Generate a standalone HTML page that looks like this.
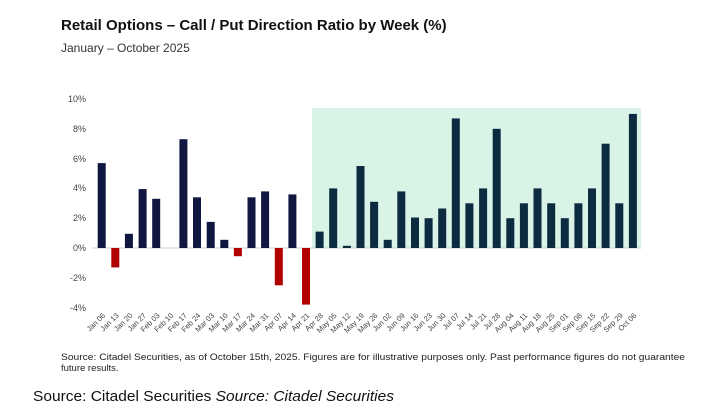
<!DOCTYPE html>
<html><head><meta charset="utf-8"><style>
html,body{margin:0;padding:0;background:#fff;}
svg{display:block;font-family:"Liberation Sans",Arial,sans-serif;}
</style></head><body>
<svg width="703" height="417" viewBox="0 0 703 417" xmlns="http://www.w3.org/2000/svg">
<rect width="703" height="417" fill="#fff"/>
<text x="61" y="30" font-size="15" font-weight="bold" fill="#111">Retail Options – Call / Put Direction Ratio by Week (%)</text>
<text x="61" y="52" font-size="12" fill="#333">January – October 2025</text>
<rect x="312" y="108" width="329" height="140" fill="#d9f3e6"/>
<g font-size="9" fill="#444" text-anchor="end">
<text x="86" y="102">10%</text><text x="86" y="132">8%</text><text x="86" y="162">6%</text>
<text x="86" y="191">4%</text><text x="86" y="221">2%</text><text x="86" y="251">0%</text>
<text x="86" y="281">-2%</text><text x="86" y="311">-4%</text>
</g>
<line x1="92" y1="248" x2="641" y2="248" stroke="#ccc" stroke-width="1"/>
<g fill="#0f1640">
<rect x="97.7" y="163.1" width="8" height="84.9"/>
<rect x="124.9" y="233.8" width="8" height="14.2"/>
<rect x="138.6" y="189.1" width="8" height="58.9"/>
<rect x="152.2" y="198.8" width="8" height="49.2"/>
<rect x="179.4" y="139.2" width="8" height="108.8"/>
<rect x="193.0" y="197.3" width="8" height="50.7"/>
<rect x="206.7" y="221.9" width="8" height="26.1"/>
<rect x="220.3" y="239.8" width="8" height="8.2"/>
<rect x="247.5" y="197.3" width="8" height="50.7"/>
<rect x="261.1" y="191.4" width="8" height="56.6"/>
<rect x="288.4" y="194.4" width="8" height="53.6"/>
</g>
<g fill="#b00000">
<rect x="111.3" y="248" width="8" height="19.4"/>
<rect x="233.9" y="248" width="8" height="8.2"/>
<rect x="274.8" y="248" width="8" height="37.3"/>
<rect x="302.0" y="248" width="8" height="56.6"/>
</g>
<g fill="#0c2a40">
<rect x="315.6" y="231.6" width="8" height="16.4"/>
<rect x="329.2" y="188.4" width="8" height="59.6"/>
<rect x="342.9" y="245.8" width="8" height="2.2"/>
<rect x="356.5" y="166.0" width="8" height="82.0"/>
<rect x="370.1" y="201.8" width="8" height="46.2"/>
<rect x="383.7" y="239.8" width="8" height="8.2"/>
<rect x="397.3" y="191.4" width="8" height="56.6"/>
<rect x="411.0" y="217.5" width="8" height="30.5"/>
<rect x="424.6" y="218.2" width="8" height="29.8"/>
<rect x="438.2" y="208.5" width="8" height="39.5"/>
<rect x="451.8" y="118.4" width="8" height="129.6"/>
<rect x="465.4" y="203.3" width="8" height="44.7"/>
<rect x="479.1" y="188.4" width="8" height="59.6"/>
<rect x="492.7" y="128.8" width="8" height="119.2"/>
<rect x="506.3" y="218.2" width="8" height="29.8"/>
<rect x="519.9" y="203.3" width="8" height="44.7"/>
<rect x="533.5" y="188.4" width="8" height="59.6"/>
<rect x="547.2" y="203.3" width="8" height="44.7"/>
<rect x="560.8" y="218.2" width="8" height="29.8"/>
<rect x="574.4" y="203.3" width="8" height="44.7"/>
<rect x="588.0" y="188.4" width="8" height="59.6"/>
<rect x="601.6" y="143.7" width="8" height="104.3"/>
<rect x="615.3" y="203.3" width="8" height="44.7"/>
<rect x="628.9" y="113.9" width="8" height="134.1"/>
</g>
<g font-size="7.5" fill="#444" text-anchor="end">
<text transform="translate(105.7,316) rotate(-45)">Jan 06</text>
<text transform="translate(119.3,316) rotate(-45)">Jan 13</text>
<text transform="translate(132.9,316) rotate(-45)">Jan 20</text>
<text transform="translate(146.6,316) rotate(-45)">Jan 27</text>
<text transform="translate(160.2,316) rotate(-45)">Feb 03</text>
<text transform="translate(173.8,316) rotate(-45)">Feb 10</text>
<text transform="translate(187.4,316) rotate(-45)">Feb 17</text>
<text transform="translate(201.0,316) rotate(-45)">Feb 24</text>
<text transform="translate(214.7,316) rotate(-45)">Mar 03</text>
<text transform="translate(228.3,316) rotate(-45)">Mar 10</text>
<text transform="translate(241.9,316) rotate(-45)">Mar 17</text>
<text transform="translate(255.5,316) rotate(-45)">Mar 24</text>
<text transform="translate(269.1,316) rotate(-45)">Mar 31</text>
<text transform="translate(282.8,316) rotate(-45)">Apr 07</text>
<text transform="translate(296.4,316) rotate(-45)">Apr 14</text>
<text transform="translate(310.0,316) rotate(-45)">Apr 21</text>
<text transform="translate(323.6,316) rotate(-45)">Apr 28</text>
<text transform="translate(337.2,316) rotate(-45)">May 05</text>
<text transform="translate(350.9,316) rotate(-45)">May 12</text>
<text transform="translate(364.5,316) rotate(-45)">May 19</text>
<text transform="translate(378.1,316) rotate(-45)">May 26</text>
<text transform="translate(391.7,316) rotate(-45)">Jun 02</text>
<text transform="translate(405.3,316) rotate(-45)">Jun 09</text>
<text transform="translate(419.0,316) rotate(-45)">Jun 16</text>
<text transform="translate(432.6,316) rotate(-45)">Jun 23</text>
<text transform="translate(446.2,316) rotate(-45)">Jun 30</text>
<text transform="translate(459.8,316) rotate(-45)">Jul 07</text>
<text transform="translate(473.4,316) rotate(-45)">Jul 14</text>
<text transform="translate(487.1,316) rotate(-45)">Jul 21</text>
<text transform="translate(500.7,316) rotate(-45)">Jul 28</text>
<text transform="translate(514.3,316) rotate(-45)">Aug 04</text>
<text transform="translate(527.9,316) rotate(-45)">Aug 11</text>
<text transform="translate(541.5,316) rotate(-45)">Aug 18</text>
<text transform="translate(555.2,316) rotate(-45)">Aug 25</text>
<text transform="translate(568.8,316) rotate(-45)">Sep 01</text>
<text transform="translate(582.4,316) rotate(-45)">Sep 08</text>
<text transform="translate(596.0,316) rotate(-45)">Sep 15</text>
<text transform="translate(609.6,316) rotate(-45)">Sep 22</text>
<text transform="translate(623.3,316) rotate(-45)">Sep 29</text>
<text transform="translate(636.9,316) rotate(-45)">Oct 06</text>
</g>
<text x="61" y="360" font-size="9.5" fill="#222" textLength="624" lengthAdjust="spacingAndGlyphs">Source: Citadel Securities, as of October 15th, 2025. Figures are for illustrative purposes only. Past performance figures do not guarantee</text>
<text x="61" y="371" font-size="9.5" fill="#222">future results.</text>
<text x="33" y="401" font-size="15" fill="#111" textLength="361" lengthAdjust="spacingAndGlyphs">Source: Citadel Securities <tspan font-style="italic">Source: Citadel Securities</tspan></text>
</svg>
</body></html>
